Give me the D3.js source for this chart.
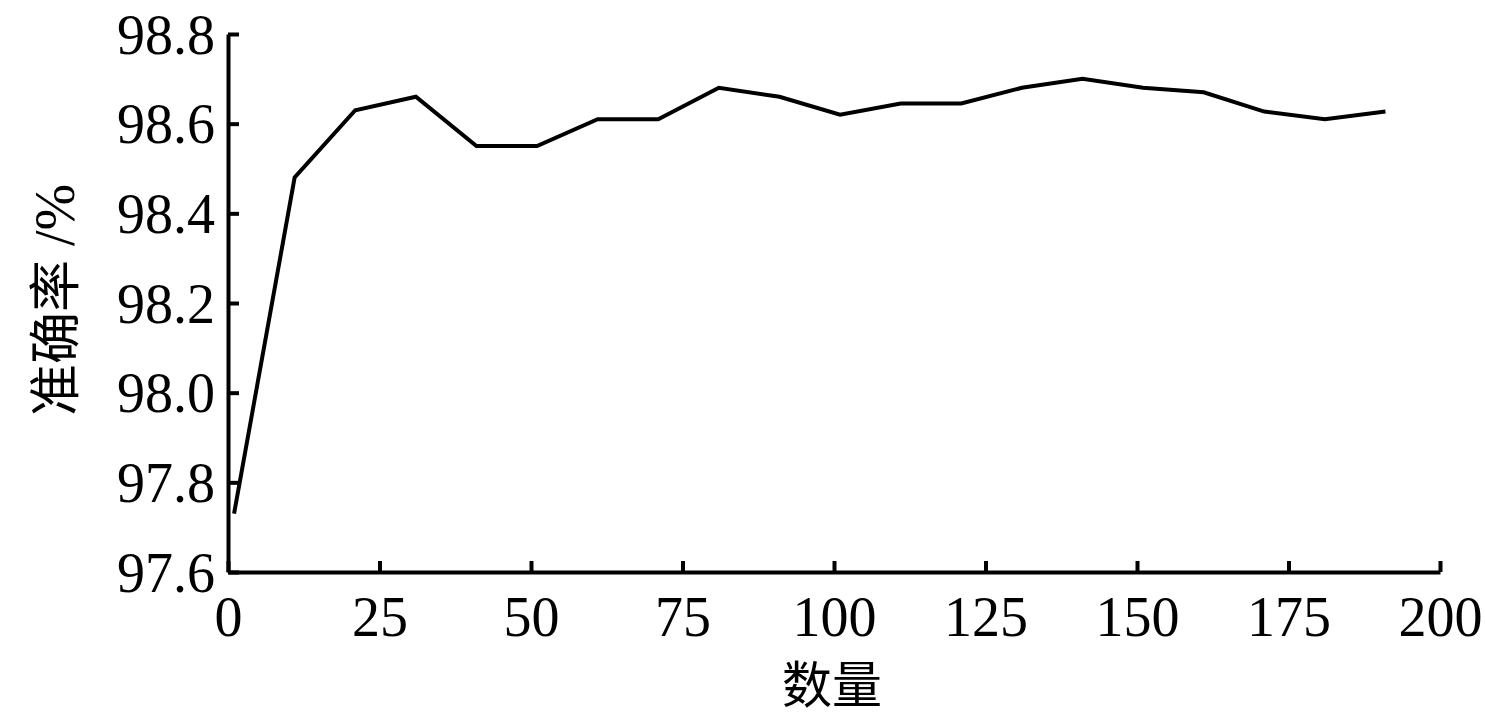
<!DOCTYPE html>
<html>
<head>
<meta charset="utf-8">
<script src="https://cdn.jsdelivr.net/npm/d3@7"></script>
<style>
  html, body { margin: 0; padding: 0; background: #fff; }
  svg { display: block; }
</style>
</head>
<body>
<svg id="chart" width="1485" height="716"></svg>
<script>
const xValues = [1, 11, 21, 31, 41, 51, 61, 71, 81, 91, 101, 111, 121, 131, 141, 151, 161, 171, 181, 191];
const accuracy = [97.73, 98.48, 98.63, 98.66, 98.55, 98.55, 98.61, 98.61, 98.68, 98.66, 98.62, 98.645, 98.645, 98.68, 98.70, 98.68, 98.67, 98.627, 98.61, 98.627];
const xTicks = [0, 25, 50, 75, 100, 125, 150, 175, 200];
const yTicks = [97.6, 97.8, 98.0, 98.2, 98.4, 98.6, 98.8];
const xTitle = "数量";
const yTitleCJK = "准确率";
const yTitleUnit = " /%";

(function () {
const svg = d3.select("#chart");
const mLeft = 228, mRight = 1440, mTop = 34, mBottom = 572;

const x = d3.scaleLinear().domain([0, 200]).range([mLeft, mRight]);
const y = d3.scaleLinear().domain([97.6, 98.8]).range([mBottom, mTop]);

const serif = "'Liberation Serif', 'Times New Roman', serif";
const cjk = "'Noto Sans CJK SC', sans-serif";

// line
const line = d3.line().x((d, i) => x(xValues[i])).y(d => y(d));
svg.append("path")
  .datum(accuracy)
  .attr("d", line)
  .attr("fill", "none")
  .attr("stroke", "#000")
  .attr("stroke-width", 4)
  .attr("stroke-linejoin", "miter");

// x axis
const gx = svg.append("g")
  .attr("transform", `translate(0,${mBottom})`)
  .call(d3.axisBottom(x).tickValues(xTicks).tickFormat(d3.format("d")).tickSizeInner(-11).tickSizeOuter(0).tickPadding(24));
gx.select(".domain").attr("stroke-width", 4).attr("stroke", "#000");
gx.selectAll(".tick line").attr("stroke-width", 4).attr("stroke", "#000");
gx.selectAll(".tick text").attr("font-family", serif).attr("font-size", 56).attr("fill", "#000");

// y axis
const gy = svg.append("g")
  .attr("transform", `translate(${mLeft},0)`)
  .call(d3.axisLeft(y).tickValues(yTicks).tickFormat(d3.format(".1f")).tickSizeInner(-11).tickSizeOuter(0).tickPadding(13));
gy.select(".domain").attr("stroke-width", 4).attr("stroke", "#000");
gy.selectAll(".tick line").attr("stroke-width", 4).attr("stroke", "#000");
gy.selectAll(".tick text").attr("font-family", serif).attr("font-size", 56).attr("fill", "#000").attr("dy", "0.34em");

// x title
svg.append("text")
  .attr("x", 832).attr("y", 703)
  .attr("text-anchor", "middle")
  .attr("font-family", cjk).attr("font-size", 50).attr("fill", "#000")
  .text(xTitle);

// y title
const yt = svg.append("text")
  .attr("transform", "translate(74,300) rotate(-90)")
  .attr("text-anchor", "middle")
  .attr("fill", "#000");
yt.append("tspan").attr("font-family", cjk).attr("font-size", 52).text(yTitleCJK);
yt.append("tspan").attr("font-family", serif).attr("font-size", 56).text(yTitleUnit);
})();
</script>
</body>
</html>
